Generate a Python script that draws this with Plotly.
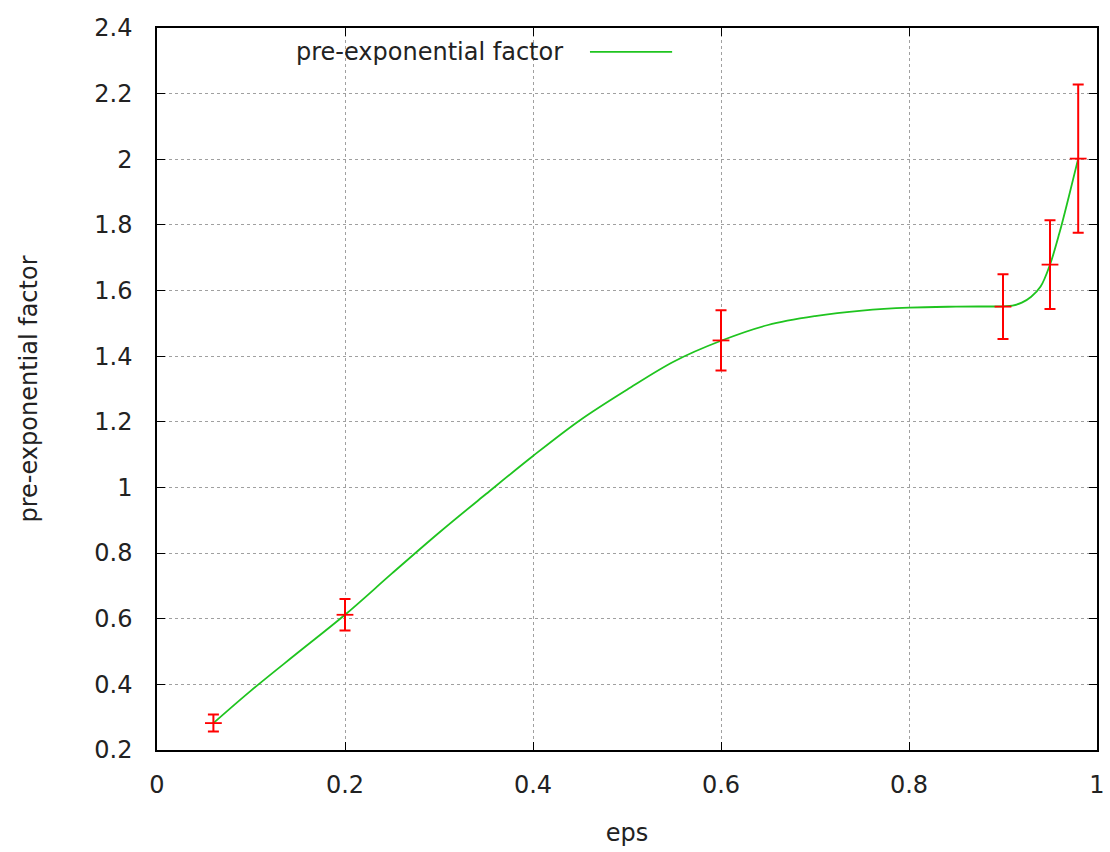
import plotly.graph_objects as go

# error-bar data
eps_pts = [0.06, 0.2, 0.6, 0.9, 0.95, 0.98]
val_pts = [0.282, 0.612, 1.448, 1.551, 1.679, 2.002]
err_pts = [0.026, 0.048, 0.092, 0.099, 0.135, 0.226]

# smooth curve
eps_curve = [0.06, 0.1, 0.15, 0.2, 0.25, 0.3, 0.35, 0.4, 0.45, 0.5, 0.55, 0.6,
             0.65, 0.7, 0.75, 0.8, 0.85, 0.9, 0.91, 0.92, 0.93, 0.94, 0.95,
             0.96, 0.97, 0.98]
val_curve = [0.282, 0.381, 0.497, 0.612, 0.738, 0.862, 0.980, 1.096, 1.205,
             1.298, 1.384, 1.447, 1.495, 1.522, 1.539, 1.548, 1.551, 1.552,
             1.554, 1.563, 1.581, 1.612, 1.679, 1.775, 1.886, 2.002]

x_ticks = [0, 0.2, 0.4, 0.6, 0.8, 1]
y_ticks = [0.2, 0.4, 0.6, 0.8, 1, 1.2, 1.4, 1.6, 1.8, 2, 2.2, 2.4]

FONT = "DejaVu Sans, sans-serif"
TXT = "#222222"
GREEN = "#1fc41f"

fig = go.Figure()
fig.add_trace(go.Scatter(
    x=eps_curve, y=val_curve, mode="lines",
    line=dict(color=GREEN, width=1.8, shape="spline", smoothing=1.0),
    showlegend=False, hoverinfo="skip"))
fig.add_trace(go.Scatter(
    x=eps_pts, y=val_pts, mode="markers",
    marker=dict(symbol="line-ew", size=12, color="red",
                line=dict(color="red", width=1.8)),
    error_y=dict(type="data", array=err_pts, visible=True, color="red",
                 thickness=2, width=5.5),
    showlegend=False))

axis_common = dict(
    showline=True, linecolor="black", linewidth=1.5, mirror="ticks",
    ticks="inside", ticklen=8, tickcolor="black", tickwidth=1,
    showgrid=True, gridcolor="#a0a0a0", griddash="dot", gridwidth=1,
    zeroline=False, automargin=False,
    tickfont=dict(family=FONT, size=24, color=TXT),
)

fig.update_xaxes(range=[0, 1], tickvals=x_ticks,
                 ticktext=[f"{v:g}" for v in x_ticks],
                 ticklabelstandoff=12,
                 title=dict(text="eps", font=dict(family=FONT, size=24, color=TXT),
                            standoff=27),
                 **axis_common)
fig.update_yaxes(range=[0.2, 2.4], tickvals=y_ticks,
                 ticktext=[f"{v:g}" for v in y_ticks],
                 ticklabelstandoff=18,
                 title=dict(text="pre-exponential factor",
                            font=dict(family=FONT, size=24, color=TXT),
                            standoff=50),
                 **axis_common)

# key (gnuplot-style: text then line sample)
fig.add_annotation(xref="paper", yref="paper", x=0.434, y=0.967,
                   text="pre-exponential factor", showarrow=False,
                   xanchor="right", yanchor="middle",
                   font=dict(family=FONT, size=24, color=TXT))
fig.add_shape(type="line", xref="paper", yref="paper",
              x0=0.4606, x1=0.548, y0=0.967, y1=0.967,
              line=dict(color=GREEN, width=1.8))

fig.update_layout(
    width=1110, height=852,
    margin=dict(l=157, r=13, t=28, b=102),
    plot_bgcolor="white", paper_bgcolor="white",
    font=dict(family=FONT),
)

fig.write_html("out.html")
